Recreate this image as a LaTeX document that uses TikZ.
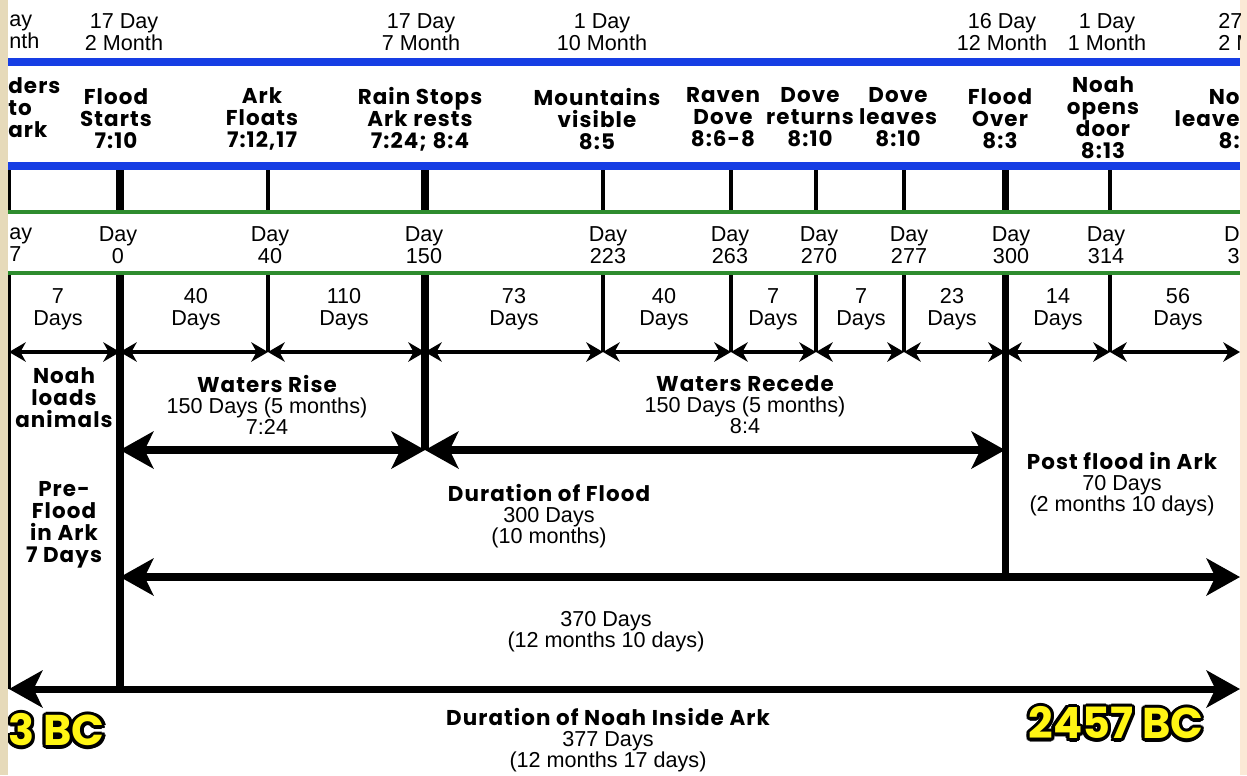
\documentclass[tikz,border=0pt]{standalone}
\usepackage{fontspec}
\setmainfont{Liberation Sans}
\newfontfamily\evfont{Poppins}[LetterSpace=5]
\newfontfamily\bcfont{Poppins}
\usepackage{tikz}
\usetikzlibrary{arrows.meta, positioning, calc}
\definecolor{bandblue}{RGB}{22,62,228}
\definecolor{bandgreen}{RGB}{46,140,46}
\definecolor{edgetan}{RGB}{230,218,186}
\definecolor{edgepeach}{RGB}{251,233,214}
\definecolor{bcyellow}{RGB}{255,245,20}
\tikzstyle{datelbl} = [align=center, inner sep=0pt, font=\fontsize{12.3}{12.7}\selectfont]
\tikzstyle{eventlbl} = [align=center, inner sep=0pt, font=\evfont\bfseries\fontsize{12.2}{12.5}\selectfont]
\tikzstyle{blocklbl} = [align=center, inner sep=0pt, font=\fontsize{12.3}{12}\selectfont]
\tikzstyle{bcyear} = [inner sep=0pt, font=\bcfont\bfseries\fontsize{24.5}{24}\selectfont]
\tikzstyle{band} = [line width=4pt]
\tikzstyle{rule} = [line width=2.3pt]
\tikzstyle{arrow} = [line width=2.3pt, <->, >={Stealth[length=9.5pt, width=11pt, inset=3pt]}]
\tikzstyle{bigarrow} = [line width=4pt, <->, >={Stealth[length=19pt, width=21pt, inset=5pt]}]
\newcommand{\blockhead}[1]{{\evfont\bfseries\fontsize{12.2}{12}\selectfont #1}}

\begin{document}
\begin{tikzpicture}[x=0.02cm, y=-0.02cm]

        % Canvas and edges
        \useasboundingbox (0,0) rectangle (1247,775);
        \fill[edgetan] (0,0) rectangle (8,775);
        \fill[white] (8,0) rectangle (1240,775);
        \fill[edgepeach] (1240,0) rectangle (1247,775);

        \begin{scope}
        \clip (8,0) rectangle (1240,775);

        % Ticks (x / width / lower end)
        \foreach \x/\w/\b in {9/2/689, 120/4/689, 268/2/352, 425/4/450, 603/2/352, 731/2/352,
                              816/2/352, 904/2/352, 1005/4/577, 1110/2/352}
            \draw[line width=\w pt] (\x,166) -- (\x,212) (\x,273) -- (\x,\b);

        % Bands
        \draw[band, draw=bandblue] (8,62) -- (1240,62);
        \draw[band, draw=bandblue] (8,166) -- (1240,166);
        \draw[rule, draw=bandgreen] (8,212) -- (1240,212);
        \draw[rule, draw=bandgreen] (8,273) -- (1240,273);

        % Dates (Top Row)
        \node (dtleft) [datelbl, anchor=west, align=left] at (9,32) {ay\\nth};
        \node (dt2m) [datelbl] at (124,32) {17 Day\\2 Month};
        \node (dt7m) [datelbl] at (421,32) {17 Day\\7 Month};
        \node (dt10m) [datelbl] at (602,32) {1 Day\\10 Month};
        \node (dt12m) [datelbl] at (1002,32) {16 Day\\12 Month};
        \node (dt1m) [datelbl] at (1107,32) {1 Day\\1 Month};
        \node (dtright) [datelbl, anchor=west, align=left] at (1218,32) {27\\2 M};

        % Events
        \node (evleft) [eventlbl, anchor=west, align=left] at (8,108) {ders\\to\\ark};
        \node (evflood) [eventlbl] at (116,119) {Flood\\Starts\\7:10};
        \node (evfloat) [eventlbl] at (262,119) {Ark\\Floats\\7:12,17};
        \node (evrain) [eventlbl] at (420,119) {Rain Stops\\Ark rests\\7:24; 8:4};
        \node (evmount) [eventlbl] at (597,119) {Mountains\\visible\\8:5};
        \node (evraven) [eventlbl] at (723,117) {Raven\\Dove\\8:6-8};
        \node (evdret) [eventlbl] at (810,117) {Dove\\returns\\8:10};
        \node (evdleave) [eventlbl] at (898,117) {Dove\\leaves\\8:10};
        \node (evover) [eventlbl] at (1000,119) {Flood\\Over\\8:3};
        \node (evopen) [eventlbl] at (1103,118) {Noah\\opens\\door\\8:13};
        \node (evright) [eventlbl, anchor=east, align=right] at (1240,119) {No\\leave\\8:};

        % Day numbers
        \node (dayleft) [datelbl, anchor=west, align=left] at (9,245) {ay\\7};
        \node (day0) [datelbl] at (118,245) {Day\\0};
        \node (day40) [datelbl] at (270,245) {Day\\40};
        \node (day150) [datelbl] at (424,245) {Day\\150};
        \node (day223) [datelbl] at (608,245) {Day\\223};
        \node (day263) [datelbl] at (730,245) {Day\\263};
        \node (day270) [datelbl] at (819,245) {Day\\270};
        \node (day277) [datelbl] at (909,245) {Day\\277};
        \node (day300) [datelbl] at (1011,245) {Day\\300};
        \node (day314) [datelbl] at (1106,245) {Day\\314};
        \node (dayright) [datelbl, anchor=east, align=right] at (1240,245) {D\\3};

        % Span lengths
        \node (sp7a) [datelbl] at (58,309) {7\\Days};
        \node (sp40a) [datelbl] at (196,309) {40\\Days};
        \node (sp110) [datelbl] at (344,309) {110\\Days};
        \node (sp73) [datelbl] at (514,309) {73\\Days};
        \node (sp40b) [datelbl] at (664,309) {40\\Days};
        \node (sp7b) [datelbl] at (773,309) {7\\Days};
        \node (sp7c) [datelbl] at (861,309) {7\\Days};
        \node (sp23) [datelbl] at (952,309) {23\\Days};
        \node (sp14) [datelbl] at (1058,309) {14\\Days};
        \node (sp56) [datelbl] at (1178,309) {56\\Days};

        % Arrow ends
        \foreach \n/\x in {m7/9, d0/120, d40/268, d150/425, d223/603, d263/731,
                           d270/816, d277/904, d300/1005, d314/1110, d370/1240}
            \coordinate (\n) at (\x,352);
        \coordinate (rise0) at (120,450);
        \coordinate (rise1) at (425,450);
        \coordinate (rise2) at (1005,450);
        \coordinate (flood0) at (120,577);
        \coordinate (flood1) at (1240,577);
        \coordinate (ark0) at (9,689);
        \coordinate (ark1) at (1240,689);

        % Arrows: short spans
        \foreach \a/\b in {m7/d0, d0/d40, d40/d150, d150/d223, d223/d263, d263/d270,
                           d270/d277, d277/d300, d300/d314, d314/d370}
            \draw[arrow] (\a) -- (\b);

        % Arrows: long spans
        \draw[bigarrow] (rise0) -- (rise1);
        \draw[bigarrow] (rise1) -- (rise2);
        \draw[bigarrow] (flood0) -- (flood1);
        \draw[bigarrow] (ark0) -- (ark1);

        % Blocks
        \node (loads) [eventlbl] at (64,398) {Noah\\loads\\animals};
        \node (preflood) [eventlbl] at (64,525) {Pre-\\Flood\\in Ark\\7 Days};
        \node (rise) [blocklbl] at (267,405) {\blockhead{Waters Rise}\\150 Days (5 months)\\7:24};
        \node (recede) [blocklbl] at (745,405) {\blockhead{Waters Recede}\\150 Days (5 months)\\8:4};
        \node (flood) [blocklbl] at (549,516) {\blockhead{Duration of Flood}\\300 Days\\(10 months)};
        \node (post) [blocklbl] at (1122,484) {\blockhead{Post flood in Ark}\\70 Days\\(2 months 10 days)};
        \node (total) [blocklbl] at (606,632) {370 Days\\(12 months 10 days)};
        \node (inside) [blocklbl] at (608,740) {\blockhead{Duration of Noah Inside Ark}\\377 Days\\(12 months 17 days)};

        % Years
        \foreach \i in {1,...,16} {
            \node (bclh\i) [bcyear, text=black, anchor=west] at ([shift={(\i*22.5:1.8pt)}]8,730) {3 BC};
            \node (bcrh\i) [bcyear, text=black] at ([shift={(\i*22.5:1.8pt)}]1116,723) {2457 BC};
        }
        \node (bcleft) [bcyear, text=bcyellow, anchor=west] at (8,730) {3 BC};
        \node (bcright) [bcyear, text=bcyellow] at (1116,723) {2457 BC};

        \end{scope}

    \end{tikzpicture}
\end{document}
